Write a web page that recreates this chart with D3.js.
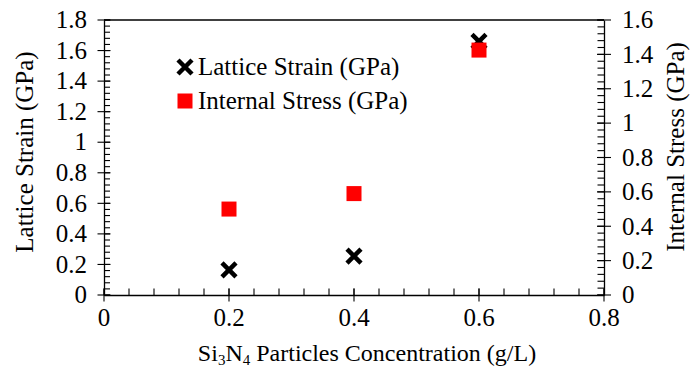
<!DOCTYPE html>
<html><head><meta charset="utf-8">
<script src="https://cdn.jsdelivr.net/npm/d3@7"></script>
<style>body{margin:0;background:#fff}svg{display:block}</style>
</head><body>
<svg id="c" width="695" height="368"></svg>
<script>
const concentration = [0.2, 0.4, 0.6];
const latticeStrain = [0.164, 0.255, 1.66];
const internalStress = [0.50, 0.59, 1.425];
const xTicks = [0, 0.2, 0.4, 0.6, 0.8];
const yLeftTicks = [0, 0.2, 0.4, 0.6, 0.8, 1, 1.2, 1.4, 1.6, 1.8];
const yRightTicks = [0, 0.2, 0.4, 0.6, 0.8, 1, 1.2, 1.4, 1.6];
const seriesNames = ["Lattice Strain (GPa)", "Internal Stress (GPa)"];

const svg = d3.select("#c");
const L = 104, R = 604, T = 20, B = 295;
const x = d3.scaleLinear().domain([0, 0.8]).range([L, R]);
const yL = d3.scaleLinear().domain([0, 1.8]).range([B, T]);
const yR = d3.scaleLinear().domain([0, 1.6]).range([B, T]);
const fs = 25;
const FF = "Liberation Serif";

svg.append("line").attr("x1", L).attr("x2", R).attr("y1", T).attr("y2", T).attr("stroke", "#000").attr("stroke-width", 1.3);

function minors(maxv, step) { const a = []; for (let i = 0; i <= Math.round(maxv / step); i++) a.push(+(i * step).toFixed(4)); return a; }
function txt(g, size) { return g.append("text").attr("font-family", FF).attr("font-size", size || fs).attr("fill", "#000"); }

// X axis
const gx = svg.append("g").attr("transform", `translate(0,${B})`);
gx.call(d3.axisBottom(x).tickValues(xTicks).tickSize(0).tickFormat(""));
gx.selectAll(".tick").remove();
gx.select(".domain").attr("stroke-width", 1.3);
gx.selectAll(".mn").data(minors(0.8, 0.04)).join("line").attr("x1", d => x(d)).attr("x2", d => x(d)).attr("y1", 0).attr("y2", -6.5).attr("stroke", "#000").attr("stroke-width", 1.1);
gx.selectAll(".mj").data(xTicks).join("line").attr("x1", d => x(d)).attr("x2", d => x(d)).attr("y1", -6.5).attr("y2", 6.5).attr("stroke", "#000").attr("stroke-width", 1.1);
gx.selectAll(".lb").data(xTicks).join("text").attr("font-family", FF).attr("fill", "#000").attr("x", d => x(d)).attr("y", 31).attr("text-anchor", "middle").attr("font-size", fs).text(d => d);

// Left Y axis
const gl = svg.append("g").attr("transform", `translate(${L},0)`);
gl.call(d3.axisLeft(yL).tickValues(yLeftTicks).tickSize(0).tickFormat(""));
gl.selectAll(".tick").remove();
gl.select(".domain").attr("stroke-width", 1.3);
gl.selectAll(".mn").data(minors(1.8, 0.04)).join("line").attr("y1", d => yL(d)).attr("y2", d => yL(d)).attr("x1", 0).attr("x2", 6).attr("stroke", "#000").attr("stroke-width", 1.1);
gl.selectAll(".mj").data(yLeftTicks).join("line").attr("y1", d => yL(d)).attr("y2", d => yL(d)).attr("x1", -6.5).attr("x2", 6.5).attr("stroke", "#000").attr("stroke-width", 1.1);
gl.selectAll(".lb").data(yLeftTicks).join("text").attr("font-family", FF).attr("fill", "#000").attr("x", -17).attr("y", d => yL(d)).attr("dy", "0.33em").attr("text-anchor", "end").attr("font-size", fs).text(d => d);

// Right Y axis
const gr = svg.append("g").attr("transform", `translate(${R},0)`);
gr.call(d3.axisRight(yR).tickValues(yRightTicks).tickSize(0).tickFormat(""));
gr.selectAll(".tick").remove();
gr.select(".domain").attr("stroke-width", 1.3);
gr.selectAll(".mn").data(minors(1.6, 0.04)).join("line").attr("y1", d => yR(d)).attr("y2", d => yR(d)).attr("x1", 0).attr("x2", -6.5).attr("stroke", "#000").attr("stroke-width", 1.1);
gr.selectAll(".mj").data(yRightTicks).join("line").attr("y1", d => yR(d)).attr("y2", d => yR(d)).attr("x1", -7).attr("x2", 7).attr("stroke", "#000").attr("stroke-width", 1.1);
gr.selectAll(".lb").data(yRightTicks).join("text").attr("font-family", FF).attr("fill", "#000").attr("x", 18).attr("y", d => yR(d)).attr("dy", "0.33em").attr("text-anchor", "start").attr("font-size", fs).text(d => d);

// Axis titles
const xt = txt(svg, 24).attr("x", 367).attr("y", 361).attr("text-anchor", "middle");
xt.append("tspan").text("Si");
xt.append("tspan").attr("font-size", 15).attr("dy", 4).text("3");
xt.append("tspan").attr("dy", -4).text("N");
xt.append("tspan").attr("font-size", 15).attr("dy", 4).text("4");
xt.append("tspan").attr("dy", -4).text(" Particles Concentration (g/L)");

txt(svg).attr("transform", `translate(33,152) rotate(-90)`).attr("text-anchor", "middle").text(seriesNames[0]);
txt(svg).attr("transform", `translate(684,147) rotate(-90)`).attr("text-anchor", "middle").text(seriesNames[1]);

// Markers
const xs = 7;
function cross(g, cx, cy) {
  g.append("path").attr("d", `M${cx - xs},${cy - xs}L${cx + xs},${cy + xs}M${cx - xs},${cy + xs}L${cx + xs},${cy - xs}`)
    .attr("stroke", "#000").attr("stroke-width", 4.5).attr("fill", "none");
}
const gm = svg.append("g");
concentration.forEach((c, i) => cross(gm, x(c), yL(latticeStrain[i])));
const sq = 15;
svg.append("g").selectAll("rect").data(concentration).join("rect")
  .attr("x", (d) => x(d) - sq / 2).attr("y", (d, i) => yR(internalStress[i]) - sq / 2)
  .attr("width", sq).attr("height", sq).attr("fill", "#ff0000");

// Legend
cross(svg, 185, 67);
svg.append("rect").attr("x", 185 - sq / 2).attr("y", 101 - sq / 2).attr("width", sq).attr("height", sq).attr("fill", "#ff0000");
txt(svg).attr("x", 198).attr("y", 75).text(seriesNames[0]);
txt(svg).attr("x", 198).attr("y", 109).text(seriesNames[1]);
</script>
</body></html>
